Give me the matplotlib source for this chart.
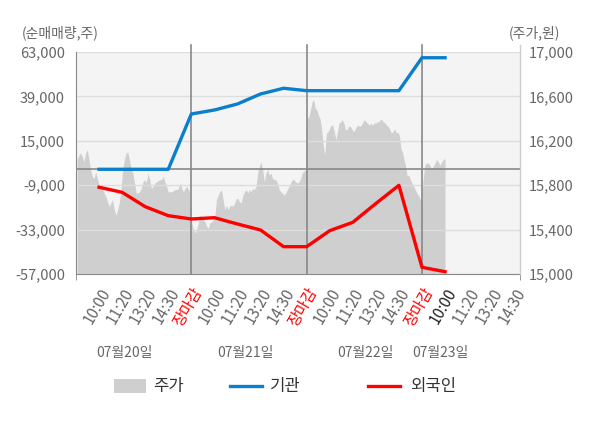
import numpy as np
import matplotlib
matplotlib.use("Agg")
import matplotlib.pyplot as plt
from matplotlib.patches import Rectangle
from matplotlib.lines import Line2D

plt.rcParams['font.family'] = ['Noto Sans CJK KR', 'DejaVu Sans']

# x tick labels (category slots 1..19)
tick_labels = ['10:00', '11:20', '13:20', '14:30', '장마감',
               '10:00', '11:20', '13:20', '14:30', '장마감',
               '10:00', '11:20', '13:20', '14:30', '장마감',
               '10:00', '11:20', '13:20', '14:30']
dates = ['07월20일', '07월21일', '07월22일', '07월23일']
date_pos = [2.12, 7.33, 12.53, 15.78]

# 순매매량 (shares) at slots 1..16
inst = [-400, -400, -400, -400, 29490, 31650, 34900, 40300, 43400,
        42100, 42100, 42100, 42100, 42100, 59900, 59900]
foreign = [-10100, -12850, -20600, -25470, -27270, -26560, -29970, -33200,
           -42230, -42230, -33580, -29060, -18900, -9070, -53380, -55750]

# intraday price, per day
day1 = [16030, 16070, 16090, 16060, 16010, 16090, 16120, 16030, 15940, 15880,
        15860, 15920, 15860, 15790, 15780, 15770, 15730, 15700, 15650, 15610,
        15640, 15670, 15580, 15530, 15580, 15640, 15760, 15940, 16030, 16090,
        16100, 16030, 15950, 15910, 15820, 15730, 15730, 15740, 15770, 15830,
        15850, 15820, 15910, 15850, 15770, 15790, 15820, 15830, 15840, 15850,
        15850, 15880, 15830, 15790, 15740, 15740, 15740, 15750, 15760, 15760,
        15770, 15820, 15770, 15740, 15770, 15790, 15760, 15730]
day2 = [15460, 15400, 15370, 15410, 15460, 15530, 15520, 15490, 15470, 15430,
        15410, 15460, 15470, 15490, 15520, 15670, 15710, 15740, 15760, 15670,
        15580, 15620, 15580, 15610, 15620, 15610, 15640, 15680, 15680, 15650,
        15640, 15710, 15740, 15760, 15730, 15760, 15740, 15770, 15760, 15790,
        15910, 15970, 16010, 15940, 15830, 15910, 15940, 15890, 15910, 15860,
        15850, 15850, 15820, 15760, 15740, 15730, 15710, 15730, 15760, 15790,
        15820, 15850, 15850, 15830, 15820, 15830, 15860, 15910, 15930, 15930]
day3 = [16400, 16420, 16480, 16550, 16570, 16490, 16480, 16430, 16400, 16310,
        16160, 16070, 16270, 16280, 16310, 16340, 16340, 16280, 16210, 16280,
        16360, 16370, 16390, 16360, 16300, 16300, 16330, 16330, 16310, 16280,
        16300, 16330, 16340, 16330, 16340, 16370, 16390, 16370, 16360, 16340,
        16360, 16340, 16360, 16360, 16370, 16370, 16390, 16390, 16370, 16360,
        16340, 16330, 16300, 16270, 16280, 16310, 16270, 16280, 16250, 16130,
        16100, 16030, 15970, 15880, 15890, 15850, 15820, 15790, 15760, 15730,
        15710, 15680, 15650]
day4 = [15850, 15980, 16000, 16000, 15980, 15940, 15970, 16000, 16030, 16010,
        15980, 16010, 16030, 16040]

px = np.concatenate([np.linspace(0.05, 4.95, len(day1)),
                     np.linspace(5.02, 9.95, len(day2)),
                     np.linspace(10.03, 14.98, len(day3)),
                     np.linspace(15.05, 16.0, len(day4))])
price = np.array(day1 + day2 + day3 + day4)

GRAY_TXT = '#666666'
fig = plt.figure(figsize=(6, 4.28), dpi=100)
ax = fig.add_axes([76/600, 154/428, 444/600, 222/428])
ax.set_facecolor('#f4f4f4')
ax.fill_between(px, price, 15000, color='#cfcfcf', linewidth=0, zorder=1)
ax.set_ylim(15000, 17000)
ax.set_xlim(0, 19.25)
ax.set_axisbelow('line')
ax.grid(axis='y', color='#dddddd', linewidth=1)

slots = np.arange(1, len(tick_labels) + 1)
ax.set_xticks(slots)
ax.set_xticklabels(tick_labels, rotation=60, ha='right', va='top',
                   rotation_mode='anchor')
ax.tick_params(axis='x', which='major', length=0, pad=8, labelsize=11,
               labelcolor=GRAY_TXT)
for i, lab in enumerate(ax.get_xticklabels()):
    if tick_labels[i] == '장마감':
        lab.set_color('red')
    elif i == 15:
        lab.set_color('#222222')
ax.set_xticks([0, 5, 10, 15, 19.25], minor=True)
ax.tick_params(axis='x', which='minor', length=4, color='#888888')

for s in ['top', 'right', 'left']:
    ax.spines[s].set_visible(False)
ax.spines['bottom'].set_color('#888888')

ax2 = ax.twinx()
ax2.set_ylim(-57000, 63000)
ax2.set_yticks(np.arange(-57000, 63001, 24000))
ax2.set_yticklabels([f'{v:,}' for v in range(-57000, 63001, 24000)])
for s in ['top', 'right', 'bottom']:
    ax2.spines[s].set_visible(False)
ax2.spines['left'].set_color('#888888')

# price axis on the right, volume axis on the left
ax.yaxis.tick_right()
ax.set_yticks(np.arange(15000, 17001, 400))
ax.set_yticklabels([f'{v:,}' for v in range(15000, 17001, 400)])
ax.tick_params(axis='y', length=0, pad=6, labelsize=10.5, labelcolor=GRAY_TXT)
ax2.yaxis.tick_left()
ax2.tick_params(axis='y', length=0, pad=8, labelsize=10.5, labelcolor=GRAY_TXT)

ax2.axhline(0, color='#888888', linewidth=1.2, zorder=2)
for b in [5, 10, 15]:
    ax2.axvline(b, ymin=0, ymax=1.03, color='#888888', linewidth=1.2,
                clip_on=False, zorder=2)
ax2.axvline(19.25, ymin=0, ymax=1.03, color='#cccccc', linewidth=1,
            clip_on=False, zorder=2)

lx = np.arange(1, len(inst) + 1)
ax2.plot(lx, inst, color='#0a7fcc', linewidth=2.4, zorder=4)
ax2.plot(lx, foreign, color='#ff0000', linewidth=2.4, zorder=4)

for d, p in zip(dates, date_pos):
    ax.text(p, -0.356, d, transform=ax.get_xaxis_transform(), ha='center',
            va='center', fontsize=10, color=GRAY_TXT)

fig.text(22/600, 1 - 33/428, '(순매매량,주)', ha='left', va='center',
         fontsize=10, color=GRAY_TXT)
fig.text(509/600, 1 - 33/428, '(주가,원)', ha='left', va='center',
         fontsize=10, color=GRAY_TXT)

# legend
ly = 1 - 386/428
fig.add_artist(Rectangle((114/600, 1 - 393/428), 32/600, 14/428,
                         facecolor='#cfcfcf', edgecolor='none',
                         transform=fig.transFigure))
fig.text(153/600, ly, '주가', ha='left', va='center', fontsize=12, color='#333333')
fig.add_artist(Line2D([230/600, 262/600], [ly, ly], color='#0a7fcc',
                      linewidth=2.4, transform=fig.transFigure))
fig.text(270/600, ly, '기관', ha='left', va='center', fontsize=12, color='#333333')
fig.add_artist(Line2D([368/600, 400/600], [ly, ly], color='#ff0000',
                      linewidth=2.4, transform=fig.transFigure))
fig.text(410/600, ly, '외국인', ha='left', va='center', fontsize=12, color='#333333')

fig.savefig('out.png', dpi=100)
